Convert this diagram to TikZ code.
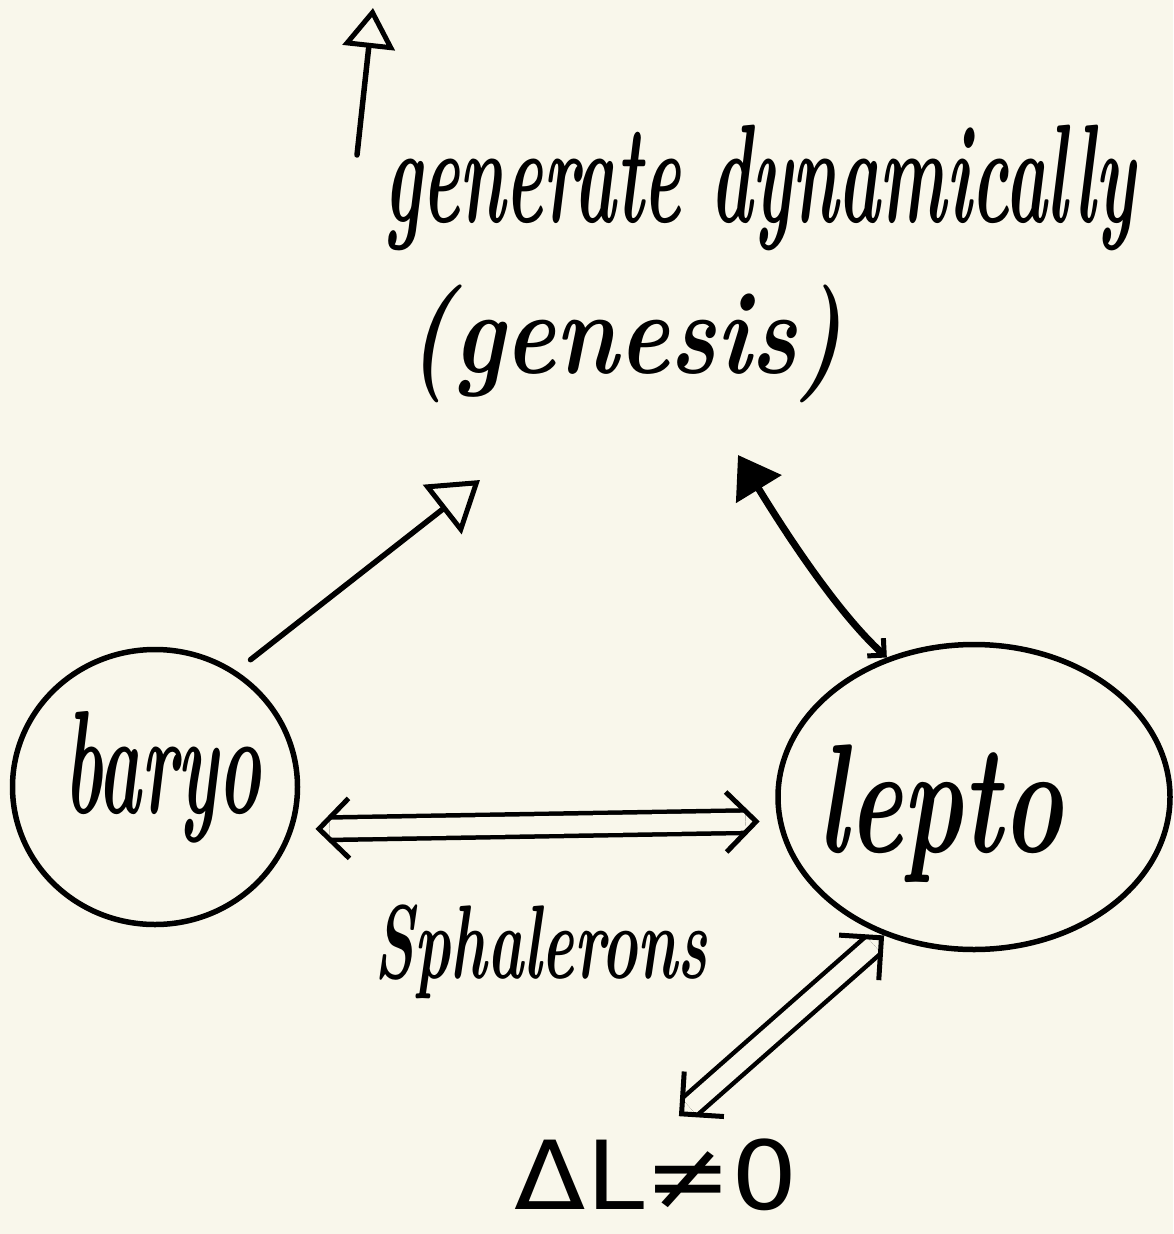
\documentclass[tikz,border=0pt]{standalone}
\usepackage{fontspec}
\usepackage{graphicx}
\newfontfamily\signfont{DejaVu Sans}
\usetikzlibrary{arrows.meta,shapes.geometric}
\definecolor{paper}{RGB}{249,247,235}
\tikzset{chev/.tip={Straight Barb[length=30pt,width=60pt,line width=5pt,color=black]}}
\begin{document}
\begin{tikzpicture}[x=1pt,y=-1pt,line width=5.5pt,line cap=round,line join=round,
  bubble/.style={ellipse,draw,line width=5.5pt,inner sep=0pt},
  hand/.style={inner sep=0pt,anchor=north west,font=\bfseries\itshape\fontsize{60}{60}\selectfont},
  dbl/.style={double=paper,double distance=18pt,line width=4.5pt,line cap=butt},
  heads/.style={draw=paper,line width=0.2pt,{chev}-{chev}},
  openhead/.style={-{Triangle[open,length=40pt,width=52pt,line width=5pt]}}]
\fill[paper] (0,0) rectangle (1173,1234);
\useasboundingbox (0,0) rectangle (1173,1234);

% the two sectors
\node[bubble,minimum width=285pt,minimum height=275pt] (baryo) at (155,787) {};
\node[hand] (baryoT) at (62,708) {\resizebox*{196pt}{132pt}{baryo}};
\node[bubble,minimum width=392pt,minimum height=305pt] (lepto) at (974,797) {};
\node[hand] (leptoT) at (815,742) {\resizebox*{245pt}{138pt}{lepto}};

% labels
\node[hand] (gen) at (382,122) {\resizebox*{750pt}{126pt}{generate dynamically}};
\node[hand] (genesis) at (405,282) {\resizebox*{435pt}{118pt}{(genesis)}};
\node[hand] (sph) at (372,902) {\resizebox*{333pt}{94pt}{Sphalerons}};
\node[inner sep=0pt,anchor=north west,font=\signfont] (dl) at (512,1136)
  {\resizebox*{283pt}{72pt}{ΔL≠0}};

% free arrow ends
\coordinate (upTail) at (357,155);
\coordinate (upTip) at (373,8);
\coordinate (gL) at (480,480);
\coordinate (gR) at (738,455);

\draw[openhead] (upTail) -- (upTip);
\draw[-{Triangle[open,length=48pt,width=62pt,line width=5pt]},shorten <=18pt] (baryo.55) -- (gL);
\draw[line width=7pt,{Straight Barb[length=12pt,width=24pt,line width=5pt]}-{Triangle[length=40pt,width=52pt]}]
  (lepto.122) .. controls (840,615) and (790,540) .. (gR);

% double-lined two-way arrows: rails first, then the open heads
\draw[dbl,shorten <=36pt,shorten >=32pt] (baryo.-17) -- (lepto.187);
\draw[heads,shorten <=22pt,shorten >=18pt] (baryo.-17) -- (lepto.187);
\draw[dbl,shorten <=14pt,shorten >=44pt] (lepto.237) -- (dl.north);
\draw[heads,shorten >=30pt] (lepto.237) -- (dl.north);
\end{tikzpicture}
\end{document}
